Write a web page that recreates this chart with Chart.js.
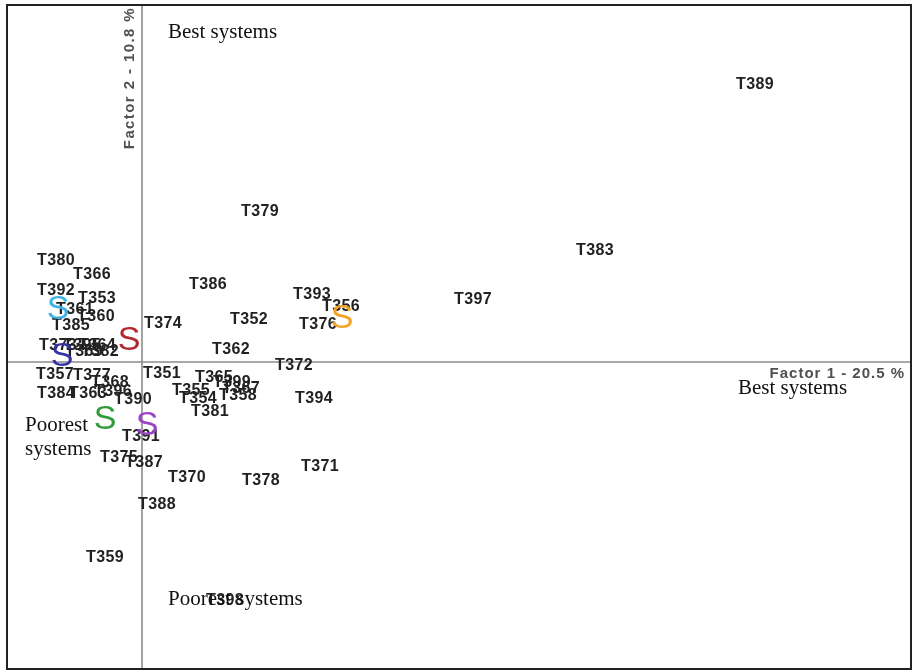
<!DOCTYPE html>
<html>
<head>
<meta charset="utf-8">
<script src="https://cdn.jsdelivr.net/npm/chart.js@4.4.1/dist/chart.umd.min.js"></script>
<style>
  body { margin: 0; background: #fff; }
  #wrap { width: 913px; height: 671px; }
</style>
</head>
<body>
<div id="wrap"><canvas id="graphCanvas" width="913" height="671"></canvas></div>
<script>
// systems (factor scores)
var sistemi = ["T389", "T383", "T397", "T379", "T386", "T393", "T356", "T376", "T352", "T374",
  "T362", "T372", "T351", "T365", "T399", "T367", "T358", "T355", "T354", "T381",
  "T394", "T371", "T378", "T370", "T388", "T387", "T375", "T391", "T390", "T359",
  "T398", "T380", "T366", "T392", "T353", "T361", "T360", "T385", "T373", "T395",
  "T364", "T369", "T382", "T357", "T377", "T368", "T384", "T363", "T396"];
var fattore1 = [6.13, 4.53, 3.31, 1.18, 0.66, 1.70, 1.99, 1.76, 1.07, 0.21,
  0.89, 1.52, 0.20, 0.72, 0.90, 0.99, 0.96, 0.49, 0.56, 0.68,
  1.72, 1.78, 1.19, 0.45, 0.15, 0.02, -0.23, -0.01, -0.09, -0.37,
  0.83, -0.86, -0.50, -0.86, -0.45, -0.67, -0.46, -0.71, -0.84, -0.60,
  -0.45, -0.58, -0.42, -0.87, -0.50, -0.32, -0.86, -0.54, -0.29];
var fattore2 = [2.77, 1.11, 0.62, 1.50, 0.77, 0.67, 0.55, 0.37, 0.42, 0.38,
  0.12, -0.04, -0.12, -0.16, -0.21, -0.27, -0.34, -0.29, -0.37, -0.50,
  -0.37, -1.05, -1.19, -1.16, -1.43, -1.01, -0.96, -0.75, -0.38, -1.96,
  -2.39, 1.01, 0.87, 0.71, 0.63, 0.52, 0.45, 0.36, 0.16, 0.16,
  0.16, 0.10, 0.10, -0.13, -0.14, -0.21, -0.32, -0.32, -0.30];

// group markers "S"
var gruppiX = [-0.84, -0.13, -0.80, -0.37, 0.05, 2.00];
var gruppiY = [0.52, 0.21, 0.05, -0.58, -0.64, 0.43];
var gruppiColori = ["#3fb4e4", "#b2282c", "#3431a6", "#2f9c3b", "#9a42c8", "#f4a21f"];

var titoloX = "Factor 1 - 20.5 %";
var titoloY = "Factor 2 - 10.8 %";

function punti(xs, ys) {
  var out = [];
  for (var i in xs) {
    out.push({ x: xs[i], y: ys[i] });
  }
  return out;
}

// draws frame, axes through 0, labels and notes
var etichette = {
  id: "etichette",
  beforeDatasetsDraw: function (chart) {
    var ctx = chart.ctx;
    var a = chart.chartArea;
    var x0 = chart.scales.x.getPixelForValue(0);
    var y0 = chart.scales.y.getPixelForValue(0);
    ctx.save();
    ctx.strokeStyle = "#8c8c8c";
    ctx.lineWidth = 1.6;
    ctx.beginPath();
    ctx.moveTo(x0, a.top);
    ctx.lineTo(x0, a.bottom);
    ctx.moveTo(a.left, y0);
    ctx.lineTo(a.right, y0);
    ctx.stroke();
    ctx.strokeStyle = "#222";
    ctx.lineWidth = 2;
    ctx.strokeRect(a.left, a.top, a.right - a.left, a.bottom - a.top);
    ctx.restore();
  },
  afterDatasetsDraw: function (chart) {
    var ctx = chart.ctx;
    var a = chart.chartArea;
    var x0 = chart.scales.x.getPixelForValue(0);
    var y0 = chart.scales.y.getPixelForValue(0);
    ctx.save();
    ctx.textAlign = "center";
    ctx.textBaseline = "middle";

    // system labels
    ctx.font = "bold 16px 'Liberation Sans', Arial, sans-serif";
    ctx.letterSpacing = "0.4px";
    ctx.fillStyle = "#222";
    chart.getDatasetMeta(0).data.forEach(function (p, i) {
      ctx.fillText(sistemi[i], p.x, p.y);
    });
    ctx.letterSpacing = "0px";

    // S markers
    ctx.font = "34px 'Liberation Sans', Arial, sans-serif";
    chart.getDatasetMeta(1).data.forEach(function (p, i) {
      ctx.fillStyle = gruppiColori[i];
      ctx.fillText("S", p.x, p.y);
    });

    // axis titles
    ctx.font = "bold 15px 'Liberation Sans', Arial, sans-serif";
    ctx.fillStyle = "#505050";
    ctx.letterSpacing = "1px";
    ctx.textAlign = "right";
    ctx.textBaseline = "alphabetic";
    ctx.fillText(titoloX, a.right - 6, y0 + 16);
    ctx.save();
    ctx.translate(x0 - 8, a.top + 2);
    ctx.rotate(-Math.PI / 2);
    ctx.letterSpacing = "1.4px";
    ctx.fillText(titoloY, 0, 0);
    ctx.restore();
    ctx.letterSpacing = "0px";

    // notes
    ctx.font = "21px 'Liberation Serif', 'Times New Roman', serif";
    ctx.fillStyle = "#111";
    ctx.textAlign = "left";
    ctx.fillText("Best systems", x0 + 26, a.top + 33);
    ctx.fillText("Best systems", a.right - 173, y0 + 32);
    ctx.fillText("Poorest systems", x0 + 26, a.bottom - 64);
    ctx.fillText("Poorest", a.left + 18, y0 + 69);
    ctx.fillText("systems", a.left + 18, y0 + 93);
    ctx.restore();
  }
};

var graphTarget = document.getElementById("graphCanvas");

var grafico = new Chart(graphTarget, {
  type: "scatter",
  data: {
    datasets: [
      { label: "sistemi", data: punti(fattore1, fattore2), pointRadius: 0 },
      { label: "gruppi", data: punti(gruppiX, gruppiY), pointRadius: 0 }
    ]
  },
  options: {
    responsive: false,
    animation: false,
    layout: { padding: { left: 7, top: 5, right: 2, bottom: 2 } },
    plugins: { legend: { display: false }, tooltip: { enabled: false } },
    scales: {
      x: { type: "linear", min: -1.35, max: 7.69, display: false },
      y: { type: "linear", min: -3.07, max: 3.57, display: false }
    }
  },
  plugins: [etichette]
});
</script>
</body>
</html>
